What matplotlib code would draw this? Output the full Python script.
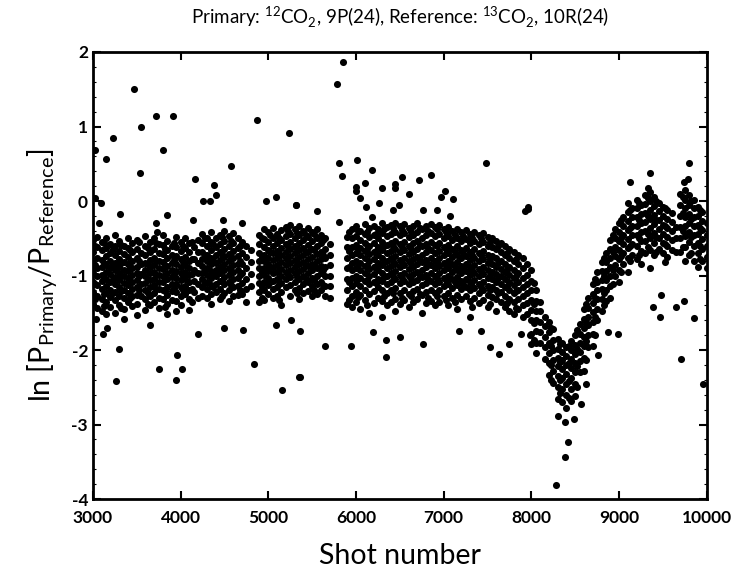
import numpy as np
import matplotlib.pyplot as plt

plt.rcParams['font.family'] = ['Lato', 'DejaVu Sans']
plt.rcParams['mathtext.fontset'] = 'custom'
plt.rcParams['mathtext.rm'] = 'Lato'
plt.rcParams['axes.unicode_minus'] = False

## main band: shot number of each column and ln ratio values
band_shot = [3000, 3050, 3100, 3150, 3200, 3250, 3300, 3350, 3400, 3450,
             3500, 3550, 3600, 3650, 3700, 3750, 3800, 3850, 3900, 3950,
             4000, 4050, 4100, 4150, 4200, 4250, 4300, 4350, 4400, 4450,
             4500, 4550, 4600, 4650, 4700, 4750, 4800, 4900, 4950,
             5000, 5050, 5100, 5150, 5200, 5250, 5300, 5350, 5400, 5450,
             5500, 5550, 5600, 5650, 5700, 5900, 5950,
             6000, 6050, 6100, 6150, 6200, 6250, 6300, 6350, 6400, 6450,
             6500, 6550, 6600, 6650, 6700, 6750, 6800, 6850, 6900, 6950,
             7000, 7050, 7100, 7150, 7200, 7250, 7300, 7350, 7400, 7450,
             7500, 7550, 7600, 7650, 7700, 7750, 7800, 7850, 7900, 7950,
             8000, 8050, 8100, 8150, 8200, 8250, 8300, 8350, 8400, 8450,
             8500, 8550, 8600, 8650, 8700, 8750, 8800, 8850, 8900, 8950,
             9000, 9050, 9100, 9150, 9200, 9250, 9300, 9350, 9400, 9450,
             9500, 9550, 9600, 9650, 9700, 9750, 9800, 9850, 9900, 9950,
             10000]

band_vals = [
    [-0.52, -0.68, -0.83, -0.97, -1.08, -1.22, -1.38],
    [-0.48, -0.62, -0.77, -0.9, -1.01, -1.13, -1.27, -1.44],
    [-0.55, -0.66, -0.79, -0.88, -0.99, -1.07, -1.18, -1.31, -1.47],
    [-0.5, -0.63, -0.74, -0.86, -0.95, -1.04, -1.14, -1.23, -1.36, -1.52],
    [-0.58, -0.7, -0.81, -0.9, -0.98, -1.09, -1.2, -1.29, -1.42],
    [-0.46, -0.61, -0.72, -0.83, -0.93, -1.02, -1.11, -1.22, -1.33, -1.5],
    [-0.54, -0.67, -0.78, -0.89, -0.97, -1.06, -1.16, -1.27, -1.39],
    [-0.6, -0.71, -0.82, -0.92, -1.0, -1.1, -1.19, -1.3, -1.45, -1.58],
    [-0.49, -0.63, -0.75, -0.85, -0.94, -1.03, -1.13, -1.24, -1.35],
    [-0.57, -0.69, -0.8, -0.9, -0.99, -1.08, -1.18, -1.28, -1.41],
    [-0.52, -0.65, -0.77, -0.88, -0.97, -1.06, -1.15, -1.26, -1.38, -1.53],
    [-0.7, -0.84, -0.98, -1.12, -1.27],
    [-0.47, -0.6, -0.72, -0.83, -0.92, -1.01, -1.1, -1.2, -1.31, -1.46],
    [-0.55, -0.68, -0.79, -0.88, -0.97, -1.06, -1.16, -1.27, -1.4],
    [-0.5, -0.64, -0.76, -0.86, -0.95, -1.04, -1.13, -1.23, -1.35],
    [-0.58, -0.7, -0.8, -0.9, -0.99, -1.08, -1.18, -1.3, -1.44],
    [-0.45, -0.59, -0.71, -0.82, -0.91, -1.0, -1.09, -1.19, -1.31],
    [-0.53, -0.66, -0.77, -0.87, -0.96, -1.05, -1.15, -1.26, -1.38, -1.52],
    [-0.6, -0.72, -0.83, -0.93, -1.02, -1.11, -1.21, -1.33],
    [-0.48, -0.62, -0.74, -0.85, -0.94, -1.03, -1.12, -1.22, -1.34, -1.47],
    [-0.55, -0.67, -0.78, -0.88, -0.97, -1.06, -1.16, -1.27, -1.39],
    [-0.5, -0.63, -0.75, -0.86, -0.95, -1.04, -1.14, -1.25],
    [-0.57, -0.69, -0.8, -0.9, -0.99, -1.09, -1.2, -1.32, -1.46],
    [-0.62, -0.78, -0.93, -1.07, -1.22],
    [-0.52, -0.68, -0.83, -0.97, -1.12, -1.3],
    [-0.44, -0.57, -0.68, -0.78, -0.87, -0.96, -1.05, -1.15, -1.27],
    [-0.49, -0.61, -0.72, -0.81, -0.9, -0.99, -1.08, -1.18, -1.3],
    [-0.42, -0.55, -0.66, -0.76, -0.85, -0.94, -1.03, -1.13, -1.25, -1.38],
    [-0.5, -0.62, -0.73, -0.83, -0.92, -1.01, -1.11, -1.22],
    [-0.45, -0.58, -0.69, -0.79, -0.88, -0.97, -1.07, -1.18, -1.31],
    [-0.4, -0.53, -0.65, -0.75, -0.84, -0.93, -1.02, -1.12, -1.24],
    [-0.47, -0.6, -0.71, -0.81, -0.9, -0.99, -1.09, -1.2, -1.34],
    [-0.43, -0.56, -0.67, -0.77, -0.86, -0.95, -1.05, -1.16, -1.28],
    [-0.5, -0.63, -0.74, -0.84, -0.93, -1.03, -1.14, -1.26],
    [-0.55, -0.7, -0.84, -0.97, -1.1, -1.25],
    [-0.6, -0.75, -0.9, -1.04, -1.18, -1.35],
    [-0.66, -0.82, -0.98, -1.14],
    [-0.45, -0.58, -0.7, -0.8, -0.9, -1.0, -1.1, -1.22, -1.36],
    [-0.38, -0.51, -0.62, -0.72, -0.81, -0.9, -0.99, -1.09, -1.2, -1.33],
    [-0.42, -0.55, -0.66, -0.76, -0.85, -0.94, -1.03, -1.13, -1.25],
    [-0.36, -0.49, -0.6, -0.7, -0.79, -0.88, -0.97, -1.07, -1.18, -1.3],
    [-0.44, -0.56, -0.67, -0.77, -0.86, -0.95, -1.05, -1.16, -1.28],
    [-0.39, -0.52, -0.63, -0.73, -0.82, -0.91, -1.0, -1.1, -1.22, -1.4],
    [-0.35, -0.47, -0.58, -0.68, -0.77, -0.86, -0.95, -1.05, -1.16],
    [-0.32, -0.44, -0.55, -0.65, -0.74, -0.83, -0.92, -1.02, -1.13, -1.27],
    [-0.37, -0.49, -0.6, -0.7, -0.79, -0.88, -0.97, -1.08, -1.2],
    [-0.33, -0.45, -0.56, -0.66, -0.75, -0.84, -0.94, -1.05, -1.17, -1.32],
    [-0.4, -0.52, -0.63, -0.73, -0.82, -0.91, -1.0, -1.11, -1.23],
    [-0.36, -0.48, -0.59, -0.69, -0.78, -0.87, -0.97, -1.08, -1.21],
    [-0.42, -0.54, -0.65, -0.75, -0.84, -0.93, -1.03, -1.14, -1.27],
    [-0.38, -0.5, -0.61, -0.71, -0.8, -0.9, -1.0, -1.12, -1.25],
    [-0.45, -0.57, -0.68, -0.78, -0.87, -0.97, -1.08, -1.2],
    [-0.5, -0.64, -0.77, -0.89, -1.01, -1.14, -1.28],
    [-0.58, -0.72, -0.86, -1.0, -1.14, -1.3],
    [-0.48, -0.62, -0.76, -0.9, -1.04, -1.2, -1.38],
    [-0.37, -0.5, -0.62, -0.73, -0.83, -0.93, -1.03, -1.14, -1.27, -1.42],
    [-0.34, -0.47, -0.59, -0.7, -0.8, -0.9, -1.0, -1.1, -1.22, -1.36],
    [-0.4, -0.52, -0.63, -0.73, -0.83, -0.93, -1.03, -1.14, -1.26, -1.45],
    [-0.31, -0.44, -0.56, -0.67, -0.77, -0.87, -0.97, -1.07, -1.19, -1.33],
    [-0.36, -0.48, -0.6, -0.71, -0.81, -0.91, -1.01, -1.12, -1.25, -1.5],
    [-0.33, -0.45, -0.57, -0.68, -0.78, -0.88, -0.98, -1.09, -1.21, -1.37],
    [-0.38, -0.5, -0.62, -0.73, -0.83, -0.93, -1.04, -1.16, -1.3],
    [-0.3, -0.43, -0.55, -0.66, -0.76, -0.86, -0.96, -1.07, -1.19, -1.34, -1.55],
    [-0.35, -0.47, -0.59, -0.7, -0.8, -0.9, -1.0, -1.11, -1.24, -1.4],
    [-0.32, -0.44, -0.56, -0.67, -0.77, -0.87, -0.97, -1.08, -1.2, -1.35],
    [-0.29, -0.41, -0.53, -0.64, -0.74, -0.84, -0.94, -1.05, -1.17, -1.31, -1.48],
    [-0.34, -0.46, -0.58, -0.69, -0.79, -0.89, -0.99, -1.1, -1.23, -1.38],
    [-0.31, -0.43, -0.55, -0.66, -0.76, -0.86, -0.96, -1.07, -1.19, -1.33],
    [-0.36, -0.48, -0.6, -0.71, -0.81, -0.91, -1.01, -1.12, -1.25, -1.42],
    [-0.33, -0.45, -0.57, -0.68, -0.78, -0.88, -0.98, -1.09, -1.21, -1.36],
    [-0.3, -0.42, -0.54, -0.65, -0.75, -0.85, -0.95, -1.06, -1.18, -1.32],
    [-0.37, -0.49, -0.61, -0.72, -0.82, -0.92, -1.02, -1.13, -1.26, -1.5],
    [-0.34, -0.46, -0.58, -0.69, -0.79, -0.89, -0.99, -1.1, -1.22, -1.37],
    [-0.31, -0.43, -0.55, -0.66, -0.76, -0.86, -0.96, -1.07, -1.19, -1.34],
    [-0.35, -0.47, -0.59, -0.7, -0.8, -0.9, -1.0, -1.11, -1.23, -1.39],
    [-0.32, -0.44, -0.56, -0.67, -0.77, -0.87, -0.97, -1.08, -1.2, -1.35],
    [-0.38, -0.5, -0.62, -0.73, -0.83, -0.93, -1.03, -1.14, -1.27],
    [-0.35, -0.47, -0.59, -0.7, -0.8, -0.9, -1.0, -1.11, -1.24, -1.4],
    [-0.4, -0.52, -0.64, -0.75, -0.85, -0.95, -1.05, -1.17, -1.3],
    [-0.37, -0.49, -0.61, -0.72, -0.82, -0.92, -1.02, -1.13, -1.26, -1.45],
    [-0.42, -0.54, -0.66, -0.77, -0.87, -0.97, -1.07, -1.18, -1.31],
    [-0.39, -0.51, -0.63, -0.74, -0.84, -0.94, -1.04, -1.15, -1.28],
    [-0.44, -0.56, -0.68, -0.79, -0.89, -0.99, -1.09, -1.2, -1.34, -1.55],
    [-0.41, -0.53, -0.65, -0.76, -0.86, -0.96, -1.06, -1.17, -1.3],
    [-0.46, -0.58, -0.7, -0.81, -0.91, -1.01, -1.11, -1.23, -1.37],
    [-0.43, -0.55, -0.67, -0.78, -0.88, -0.98, -1.08, -1.2, -1.33],
    [-0.48, -0.6, -0.72, -0.83, -0.93, -1.03, -1.14, -1.26, -1.42],
    [-0.5, -0.62, -0.74, -0.85, -0.95, -1.05, -1.16, -1.29],
    [-0.53, -0.65, -0.77, -0.88, -0.98, -1.08, -1.19, -1.32, -1.48],
    [-0.56, -0.68, -0.8, -0.91, -1.01, -1.11, -1.22, -1.35],
    [-0.6, -0.72, -0.84, -0.95, -1.05, -1.16, -1.28, -1.42],
    [-0.64, -0.76, -0.88, -0.99, -1.09, -1.2, -1.32, -1.47],
    [-0.68, -0.8, -0.92, -1.03, -1.13, -1.24, -1.36, -1.52],
    [-0.72, -0.85, -0.97, -1.08, -1.19, -1.31, -1.45],
    [-0.76, -0.9, -1.03, -1.15, -1.27, -1.4, -1.56],
    [-0.85, -0.99, -1.12, -1.24, -1.37, -1.52],
    [-0.92, -1.07, -1.2, -1.33, -1.46, -1.6, -1.78, -1.92],
    [-1.2, -1.34, -1.47, -1.6, -1.74, -1.9, -2.04],
    [-1.35, -1.48, -1.62, -1.76, -1.91],
    [-1.55, -1.68, -1.82, -1.96, -2.12],
    [-1.62, -1.76, -1.9, -2.04, -2.18, -2.34],
    [-1.72, -1.86, -2.0, -2.14, -2.28, -2.44],
    [-1.85, -1.98, -2.1, -2.22, -2.35, -2.5, -2.66],
    [-1.9, -2.02, -2.14, -2.26, -2.38, -2.52, -2.7],
    [-1.96, -2.08, -2.2, -2.32, -2.45, -2.6, -2.78],
    [-1.88, -2.0, -2.12, -2.24, -2.37, -2.52, -2.68],
    [-1.8, -1.93, -2.05, -2.17, -2.3, -2.45, -2.62],
    [-1.65, -1.78, -1.9, -2.02, -2.15, -2.3],
    [-1.45, -1.58, -1.7, -1.82, -1.95, -2.1, -2.28],
    [-1.3, -1.43, -1.55, -1.67, -1.8, -1.96],
    [-1.12, -1.25, -1.37, -1.49, -1.62, -1.78, -1.95],
    [-0.95, -1.08, -1.2, -1.32, -1.45, -1.6],
    [-0.82, -0.94, -1.06, -1.18, -1.31, -1.47],
    [-0.7, -0.82, -0.94, -1.06, -1.19, -1.34],
    [-0.52, -0.64, -0.76, -0.88, -1.0, -1.14, -1.3],
    [-0.38, -0.5, -0.62, -0.74, -0.86, -1.0],
    [-0.3, -0.42, -0.54, -0.66, -0.78, -0.92, -1.08],
    [-0.22, -0.34, -0.46, -0.58, -0.7, -0.84],
    [-0.15, -0.27, -0.39, -0.51, -0.63, -0.77, -0.95],
    [-0.1, -0.22, -0.34, -0.46, -0.58, -0.72],
    [0.02, -0.1, -0.22, -0.34, -0.46, -0.6, -0.78],
    [-0.05, -0.17, -0.29, -0.41, -0.53, -0.67, -0.85],
    [0.08, -0.04, -0.16, -0.28, -0.4, -0.54, -0.7],
    [0.12, 0.0, -0.12, -0.24, -0.36, -0.5, -0.66, -0.9],
    [0.05, -0.07, -0.19, -0.31, -0.43, -0.57, -0.73],
    [-0.02, -0.14, -0.26, -0.38, -0.5, -0.64],
    [-0.08, -0.2, -0.32, -0.44, -0.56, -0.7],
    [-0.12, -0.24, -0.36, -0.48, -0.6, -0.75],
    [-0.16, -0.28, -0.4, -0.52, -0.66],
    [-0.35, -0.5, -0.68],
    [0.1, -0.05, -0.2, -0.35, -0.5, -0.68],
    [0.15, 0.02, -0.1, -0.22, -0.34, -0.47, -0.62, -0.8],
    [0.08, -0.05, -0.17, -0.29, -0.41, -0.55, -0.72],
    [0.02, -0.1, -0.22, -0.34, -0.46, -0.6, -0.8],
    [-0.08, -0.2, -0.32, -0.44, -0.56, -0.7, -0.88],
    [-0.15, -0.27, -0.39, -0.51, -0.64, -0.8],
    [-0.3, -0.45, -0.6, -0.75, -0.9],
]

## second pass of shots, read between the columns above
fill_shot = [3025, 3125, 3225, 3325, 3425, 3525, 3625, 3725, 3825, 3925,
             4025, 4125, 4275, 4375, 4475, 4575, 4675, 4925, 5025, 5125,
             5225, 5325, 5425, 5525, 5625, 5925, 6025, 6125, 6225, 6325,
             6425, 6525, 6625, 6725, 6825, 6925, 7025, 7125, 7225, 7325,
             7425, 7525, 7625, 7725, 7825, 8025, 8225, 8325, 8425, 8525,
             8625, 8725, 8825, 8925, 9025, 9125, 9225, 9325, 9425, 9525,
             9725, 9825, 9925]
fill_vals = [
    [-0.6, -0.86, -1.11, -1.32],
    [-0.57, -0.83, -1.03, -1.25, -1.41],
    [-0.64, -0.86, -1.04, -1.24],
    [-0.59, -0.83, -1.01, -1.21, -1.44],
    [-0.66, -0.89, -1.08, -1.3],
    [-0.55, -0.81, -1.0, -1.19],
    [-0.63, -0.85, -1.05, -1.24, -1.38],
    [-0.56, -0.8, -0.99, -1.18],
    [-0.64, -0.86, -1.03, -1.21, -1.42],
    [-0.57, -0.79, -0.98, -1.17],
    [-0.61, -0.82, -1.01, -1.2],
    [-0.55, -0.78, -0.98, -1.18, -1.36],
    [-0.5, -0.73, -0.92, -1.1],
    [-0.58, -0.79, -0.97, -1.16],
    [-0.48, -0.71, -0.9, -1.07, -1.27],
    [-0.54, -0.76, -0.95, -1.13],
    [-0.6, -0.8, -0.99, -1.19],
    [-0.5, -0.75, -0.95, -1.15, -1.3],
    [-0.45, -0.68, -0.89, -1.08],
    [-0.49, -0.72, -0.92, -1.12, -1.33],
    [-0.4, -0.62, -0.81, -0.99],
    [-0.43, -0.65, -0.84, -1.02, -1.24],
    [-0.46, -0.68, -0.86, -1.05],
    [-0.44, -0.66, -0.86, -1.06, -1.19],
    [-0.52, -0.73, -0.93, -1.13],
    [-0.42, -0.67, -0.88, -1.09, -1.33],
    [-0.4, -0.64, -0.85, -1.05, -1.29],
    [-0.41, -0.65, -0.86, -1.06, -1.4],
    [-0.44, -0.67, -0.87, -1.1],
    [-0.38, -0.61, -0.82, -1.02, -1.27],
    [-0.36, -0.6, -0.8, -1.0, -1.24],
    [-0.39, -0.62, -0.83, -1.03, -1.3],
    [-0.41, -0.64, -0.84, -1.04, -1.28],
    [-0.36, -0.59, -0.8, -1.01, -1.25],
    [-0.4, -0.63, -0.84, -1.04, -1.3],
    [-0.38, -0.61, -0.82, -1.03, -1.27],
    [-0.42, -0.65, -0.86, -1.06, -1.33],
    [-0.45, -0.68, -0.89, -1.09, -1.36],
    [-0.47, -0.7, -0.91, -1.12],
    [-0.49, -0.72, -0.93, -1.14, -1.42],
    [-0.5, -0.73, -0.94, -1.15],
    [-0.55, -0.78, -0.99, -1.2, -1.38],
    [-0.61, -0.83, -1.03, -1.24],
    [-0.7, -0.93, -1.14, -1.37],
    [-0.78, -1.0, -1.21, -1.43],
    [-1.1, -1.38, -1.64, -1.86],
    [-1.7, -1.94, -2.2, -2.4],
    [-1.92, -2.16, -2.4, -2.58],
    [-1.94, -2.18, -2.42, -2.64],
    [-1.73, -1.98, -2.22, -2.5],
    [-1.38, -1.63, -1.88, -2.14],
    [-1.05, -1.3, -1.55, -1.8],
    [-0.76, -1.0, -1.24, -1.4],
    [-0.45, -0.68, -0.92, -1.12],
    [-0.26, -0.5, -0.74, -0.95],
    [-0.12, -0.36, -0.6, -0.8],
    [-0.02, -0.26, -0.5, -0.72],
    [0.04, -0.2, -0.44, -0.62],
    [0.0, -0.25, -0.48, -0.68],
    [-0.1, -0.34, -0.58, -0.82],
    [0.05, -0.16, -0.4, -0.62],
    [0.0, -0.24, -0.48, -0.7],
    [-0.12, -0.36, -0.6, -0.78],
]

## isolated shots away from the band
out_shot = [3471, 3023, 3145, 3224, 3551, 3718, 3912, 3798, 3540, 4159,
            4580, 4877, 5238, 4383, 4402, 4257, 4337, 3030, 3095, 3308,
            3065, 3847, 4977, 5091, 5312, 3718, 3733, 4143, 4485, 4706,
            5854, 5789, 5807, 6016, 5841, 6180, 6001, 6001, 6051, 6100,
            6297, 6447, 6447, 6530, 6610, 6724, 6856, 7020, 6968, 7105,
            7482, 6260, 6116, 6491, 6422, 6762, 6922, 5318, 5561, 6183,
            7931, 7070, 5805, 7962, 7962, 9799, 9351, 9123, 9742, 9790,
            9097, 9327,
            3034, 3110, 3156, 3293, 3259, 3650, 3749, 3962, 3946, 4011,
            4204, 4497, 4713, 4843, 5158, 5090, 5351, 5264, 5367, 5367,
            5645, 5938, 6347, 6347, 6500, 6760, 6193, 7172, 7429, 7528,
            7630, 7748, 7878, 7985, 8283, 8385, 8415, 8302, 8382, 8485,
            8564, 8628, 8757, 8990, 8869, 9701, 9962, 9470, 9386, 9644,
            9743, 9857, 9481]
out_val = [1.50, 0.68, 0.57, 0.85, 1.00, 1.14, 1.14, 0.68, 0.38, 0.30,
           0.47, 1.09, 0.91, 0.21, 0.08, 0.00, 0.00, 0.04, -0.02, -0.17,
           -0.29, -0.19, 0.00, 0.06, -0.06, -0.29, -0.42, -0.25, -0.25, -0.30,
           1.86, 1.57, 0.51, 0.55, 0.34, 0.41, 0.19, 0.13, 0.04, 0.24,
           0.17, 0.23, 0.17, 0.32, 0.09, 0.28, 0.35, 0.14, 0.05, 0.03,
           0.51, -0.02, -0.08, -0.06, -0.12, -0.12, -0.12, -0.06, -0.13, -0.21,
           -0.13, -0.20, -0.28, -0.08, -0.11, 0.51, 0.37, 0.26, 0.26, 0.30,
           -0.02, 0.18,
           -1.58, -1.78, -1.71, -1.98, -2.42, -1.67, -2.25, -2.07, -2.40, -2.25,
           -1.78, -1.70, -1.73, -2.19, -2.54, -1.66, -2.36, -1.60, -2.36, -1.74,
           -1.94, -1.94, -1.86, -2.09, -1.82, -1.92, -1.76, -1.74, -1.74, -1.96,
           -2.05, -1.92, -1.78, -1.80, -3.81, -3.43, -3.23, -2.88, -2.97, -2.92,
           -2.73, -2.46, -2.07, -1.79, -1.76, -2.12, -2.46, -1.55, -1.42, -1.42,
           -1.34, -1.57, -1.26]

x = ([s for s, v in zip(band_shot, band_vals) for _ in v]
     + [s for s, v in zip(fill_shot, fill_vals) for _ in v] + out_shot)
y = ([yy for v in band_vals for yy in v]
     + [yy for v in fill_vals for yy in v] + out_val)

fig = plt.figure(figsize=(7.37, 5.81), dpi=100)
ax = fig.add_axes([0.126, 0.141, 0.833, 0.7695])

ax.scatter(x, y, s=26, c='black', marker='o', linewidths=0)

ax.set_xlim(3000, 10000)
ax.set_ylim(-4, 2)
ax.set_xticks(np.arange(3000, 10001, 1000))
ax.set_yticks(np.arange(-4, 3, 1))
ax.set_yticks(np.arange(-4, 2.01, 0.2), minor=True)
ax.tick_params(which='both', direction='in', top=True, right=True)
ax.tick_params(which='major', length=6, width=1.5, labelsize=12.5)
ax.tick_params(axis='x', which='major', pad=8)
ax.tick_params(which='minor', length=2.5, width=0.8)
for lab in ax.get_xticklabels() + ax.get_yticklabels():
    lab.set_fontweight('bold')
for sp in ax.spines.values():
    sp.set_linewidth(2)

ax.set_xlabel('Shot number', fontsize=20.5, labelpad=12)
ax.set_ylabel(r'ln [P$_{\mathrm{Primary}}$/P$_{\mathrm{Reference}}$]', fontsize=20.5, labelpad=8)
ax.set_title(r'Primary: $^{12}$CO$_2$, 9P(24), Reference: $^{13}$CO$_2$, 10R(24)',
             fontsize=13.5, pad=20)

fig.savefig('out.png', dpi=100)
